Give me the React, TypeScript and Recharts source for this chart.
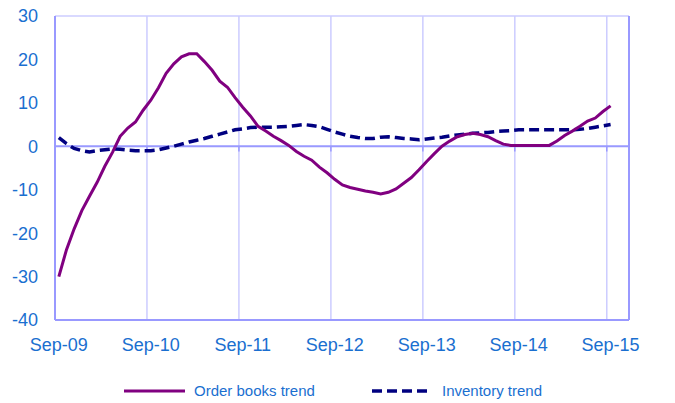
import React from 'react';
import { LineChart, Line, XAxis, YAxis, CartesianGrid, ReferenceLine } from 'recharts';

const tickLabels = ['Sep-09', 'Sep-10', 'Sep-11', 'Sep-12', 'Sep-13', 'Sep-14', 'Sep-15'];

const orderBooks = [
  -30, -23.8, -19, -14.8, -11.5, -8.3, -4.6, -1.4, 2.3, 4.2,
  5.6, 8.3, 10.6, 13.5, 16.8, 19, 20.6, 21.3, 21.3, 19.5,
  17.5, 15, 13.6, 11.2, 9, 7, 4.6, 3.5, 2.3, 1.3,
  0.2, -1.2, -2.3, -3.2, -4.8, -6.1, -7.6, -8.9, -9.5, -9.9,
  -10.3, -10.6, -11, -10.6, -9.8, -8.5, -7.2, -5.4, -3.5, -1.7,
  0, 1.2, 2.2, 2.7, 3.0, 2.7, 2.2, 1.3, 0.5, 0.2,
  0.2, 0.2, 0.2, 0.2, 0.2, 1.2, 2.5, 3.5, 4.6, 5.8,
  6.5, 8.0, 9.3,
];

const inventory = [
  2.0, 0.6, -0.5, -1.0, -1.3, -1.0, -0.8, -0.6, -0.7, -0.9,
  -1.0, -1.0, -1.0, -0.8, -0.4, 0.0, 0.5, 1.0, 1.4, 1.8,
  2.3, 2.8, 3.3, 3.8, 4.0, 4.3, 4.4, 4.4, 4.4, 4.5,
  4.6, 4.8, 5.0, 4.8, 4.5, 3.9, 3.3, 2.8, 2.3, 2.0,
  1.8, 1.8, 2.1, 2.2, 2.0, 1.8, 1.7, 1.5, 1.7, 1.9,
  2.1, 2.4, 2.6, 2.8, 3.0, 3.1, 3.2, 3.4, 3.5, 3.6,
  3.8, 3.8, 3.8, 3.8, 3.8, 3.8, 3.8, 3.8, 3.9, 4.1,
  4.4, 4.7, 5.0,
];

const yTicks = [-40, -30, -20, -10, 0, 10, 20, 30];
const xTicks = tickLabels.map((_, k) => k * 12);
const yearBoundaries = [11.5, 23.5, 35.5, 47.5, 59.5, 71.5];

const data = orderBooks.map((v, i) => ({ i, order: v, inv: inventory[i] }));

const BLUE = '#1a6fd0';
const AXIS = '#9999ff';
const GRID = '#ccccff';
const FONT = 'Liberation Sans, Arial, sans-serif';

const RightTick = (props: any) => {
  const { x, y, payload } = props;
  return (
    <text x={x + 39} y={y} dy="0.355em" textAnchor="end" fill={BLUE} fontSize={18} fontFamily={FONT}>
      {payload.value}
    </text>
  );
};

export default function App() {
  return (
    <div style={{ position: 'absolute', left: 0, top: 0, width: 675, height: 403, background: '#fff' }}>
      <LineChart width={675} height={403} data={data} margin={{ top: 16, right: 0, left: 0, bottom: 53 }}>
        <CartesianGrid vertical={false} stroke={GRID} strokeWidth={1.5} />
        <XAxis
          dataKey="i"
          type="number"
          domain={[-0.5, 74.4]}
          ticks={xTicks}
          tickFormatter={(v: number) => tickLabels[v / 12]}
          tick={{ fill: BLUE, fontSize: 18, fontFamily: FONT }}
          tickLine={false}
          tickSize={0}
          tickMargin={18}
          axisLine={{ stroke: AXIS, strokeWidth: 2 }}
          height={30}
          allowDataOverflow
        />
        <YAxis
          yAxisId="left"
          domain={[-40, 30]}
          ticks={yTicks}
          width={55}
          tick={{ fill: BLUE, fontSize: 18, fontFamily: FONT }}
          tickLine={false}
          tickSize={0}
          tickMargin={17}
          axisLine={{ stroke: AXIS, strokeWidth: 2 }}
          interval={0}
        />
        <YAxis
          yAxisId="right"
          orientation="right"
          domain={[-40, 30]}
          ticks={yTicks}
          width={46}
          tick={<RightTick />}
          tickLine={false}
          tickSize={0}
          tickMargin={0}
          axisLine={{ stroke: AXIS, strokeWidth: 2 }}
          interval={0}
        />
        {yearBoundaries.map((b) => (
          <ReferenceLine key={'g' + b} x={b} yAxisId="left" stroke={GRID} strokeWidth={1.5} />
        ))}
        {yearBoundaries.map((b) => (
          <ReferenceLine
            key={'t' + b}
            yAxisId="left"
            segment={[{ x: b, y: 0 }, { x: b, y: -1.2 }]}
            stroke={AXIS}
            strokeWidth={1.5}
          />
        ))}
        <ReferenceLine y={0} yAxisId="left" stroke={AXIS} strokeWidth={2} />
        <Line
          yAxisId="left"
          dataKey="inv"
          type="linear"
          stroke="#000080"
          strokeWidth={3.5}
          strokeDasharray="10 5"
          dot={false}
          isAnimationActive={false}
        />
        <Line
          yAxisId="left"
          dataKey="order"
          type="linear"
          stroke="#800080"
          strokeWidth={3}
          dot={false}
          isAnimationActive={false}
        />
      </LineChart>
      <div style={{ position: 'absolute', left: 0, top: 380, width: 675, height: 22, fontFamily: FONT, fontSize: 15, color: BLUE }}>
        <svg width={675} height={22} style={{ position: 'absolute', left: 0, top: 0 }}>
          <line x1={124} x2={185} y1={11} y2={11} stroke="#800080" strokeWidth={3} />
          <line x1={372} x2={432} y1={11} y2={11} stroke="#000080" strokeWidth={3.5} strokeDasharray="10 5" />
          <text x={194} y={16} fill={BLUE} fontSize={15} fontFamily={FONT}>Order books trend</text>
          <text x={442} y={16} fill={BLUE} fontSize={15} fontFamily={FONT}>Inventory trend</text>
        </svg>
      </div>
    </div>
  );
}
